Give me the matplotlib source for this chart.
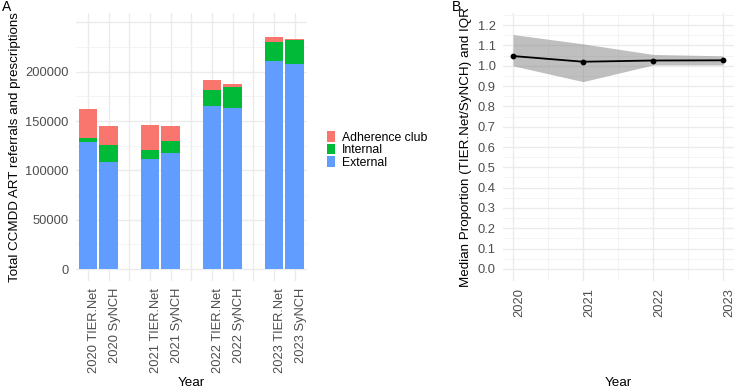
import matplotlib
matplotlib.use("Agg")
import matplotlib.pyplot as plt
from matplotlib.patches import Patch
import matplotlib.transforms as mtrans
import numpy as np

plt.rcParams['font.family'] = ['Liberation Sans', 'DejaVu Sans']

# ---------------- Data ----------------
# Panel A: stacked bars
bar_labels = ["2020 TIER.Net", "2020 SyNCH", "", "2021 TIER.Net", "2021 SyNCH", "",
              "2022 TIER.Net", "2022 SyNCH", "", "2023 TIER.Net", "2023 SyNCH"]
bar_slots = [0, 1, 3, 4, 6, 7, 9, 10]
external = [128600, 108500, 111600, 118000, 165600, 163600, 210900, 207800]
internal = [4100, 17700, 8800, 11900, 16000, 20800, 19400, 24500]
adherence = [29200, 19000, 25900, 15300, 9900, 3000, 4700, 1000]
series_names = ["Adherence club", "Internal", "External"]
series_colors = {"Adherence club": "#F8766D", "Internal": "#00BA38", "External": "#619CFF"}

# Panel B: median proportion and IQR
years = [2020, 2021, 2022, 2023]
median_prop = [1.048, 1.020, 1.026, 1.027]
iqr_low = [1.000, 0.922, 1.004, 1.004]
iqr_high = [1.154, 1.108, 1.056, 1.049]

# ---------------- Figure ----------------
W, H = 735, 389
fig = plt.figure(figsize=(W / 100, H / 100), dpi=100)

def ax_rect(x0, x1, ytop, ybot):
    return [x0 / W, 1 - ybot / H, (x1 - x0) / W, (ybot - ytop) / H]

grid_major = dict(color="#EBEBEB", linewidth=1.0)
grid_minor = dict(color="#F2F2F2", linewidth=0.6)
tick_color = "#4D4D4D"
tick_fs = 9.3
title_fs = 9.6
offset = mtrans.ScaledTranslation(-2 / 100, 0, fig.dpi_scale_trans)

# ---- Panel A ----
axA = fig.add_axes(ax_rect(75.6, 307, 13, 281))
xs = np.array(bar_slots)
ext = np.array(external)
intl = np.array(internal)
adh = np.array(adherence)
axA.bar(xs, ext, width=0.9, color=series_colors["External"], zorder=3)
axA.bar(xs, intl, width=0.9, bottom=ext, color=series_colors["Internal"], zorder=3)
axA.bar(xs, adh, width=0.9, bottom=ext + intl, color=series_colors["Adherence club"], zorder=3)
axA.set_xlim(-0.6, 10.6)
axA.set_ylim(-12000, 259500)
axA.set_xticks(range(len(bar_labels)))
axA.set_xticklabels(bar_labels, rotation=90, ha="left", va="top")
for t in axA.get_xticklabels():
    t.set_transform(t.get_transform() + offset)
axA.set_yticks([0, 50000, 100000, 150000, 200000, 250000])
axA.set_yticklabels(["0", "50000", "100000", "150000", "200000", ""])
axA.set_yticks(np.arange(25000, 260000, 50000), minor=True)
axA.grid(True, which="major", **grid_major, zorder=0)
axA.yaxis.grid(True, which="minor", **grid_minor, zorder=0)
axA.set_axisbelow(True)
for s in axA.spines.values():
    s.set_visible(False)
axA.tick_params(which="both", length=0, labelsize=tick_fs, labelcolor=tick_color)
axA.tick_params(axis="x", pad=5)
axA.tick_params(axis="y", pad=5)
axA.set_xlabel("Year", fontsize=title_fs)
axA.set_ylabel("Total CCMDD ART referrals and prescriptions", fontsize=title_fs)
axA.xaxis.set_label_coords(0.5, -(383 - 281) / 268)
axA.xaxis.label.set_va("center")
axA.yaxis.set_label_coords((15 - 75.6) / 231.4, 0.5)
axA.yaxis.label.set_va("center")

handles = [Patch(facecolor=series_colors[n], edgecolor="none", label=n) for n in series_names]
leg = fig.legend(handles=handles, loc="center left", bbox_to_anchor=(327 / W, 1 - 150 / H),
                 frameon=False, fontsize=8.8, handlelength=0.65, handleheight=0.95,
                 handletextpad=0.55, labelspacing=0.0, borderpad=0, borderaxespad=0)

# ---- Panel B ----
axB = fig.add_axes(ax_rect(502.5, 733.5, 13, 281))
axB.fill_between(years, iqr_low, iqr_high, color="grey", alpha=0.5, linewidth=0, zorder=2)
axB.plot(years, median_prop, color="black", linewidth=1.3, zorder=3)
axB.scatter(years, median_prop, color="black", s=10, zorder=4)
axB.set_xlim(2019.85, 2023.15)
axB.set_ylim(-0.06, 1.26)
axB.set_xticks(years)
axB.set_xticklabels([str(y) for y in years], rotation=90, ha="left", va="top")
for t in axB.get_xticklabels():
    t.set_transform(t.get_transform() + offset)
axB.set_xticks([2020.5, 2021.5, 2022.5], minor=True)
yt = np.round(np.arange(0, 1.21, 0.1), 1)
axB.set_yticks(yt)
axB.set_yticklabels([f"{v:.1f}" for v in yt])
axB.set_yticks(np.arange(0.05, 1.26, 0.1), minor=True)
axB.grid(True, which="major", **grid_major, zorder=0)
axB.grid(True, which="minor", **grid_minor, zorder=0)
axB.set_axisbelow(True)
for s in axB.spines.values():
    s.set_visible(False)
axB.tick_params(which="both", length=0, labelsize=tick_fs, labelcolor=tick_color)
axB.tick_params(axis="x", pad=5)
axB.tick_params(axis="y", pad=5)
axB.set_xlabel("Year", fontsize=title_fs)
axB.set_ylabel("Median Proportion (TIER.Net/SyNCH) and IQR", fontsize=title_fs)
axB.xaxis.set_label_coords(0.5, -(383 - 281) / 268)
axB.xaxis.label.set_va("center")
axB.yaxis.set_label_coords((466 - 502.5) / 231, 0.5)
axB.yaxis.label.set_va("center")

# panel tags
fig.text(2 / W, 1 - 7 / H, "A", fontsize=10, va="center", ha="left")
fig.text(452 / W, 1 - 7 / H, "B", fontsize=10, va="center", ha="left")

fig.savefig("out.png", dpi=100)
